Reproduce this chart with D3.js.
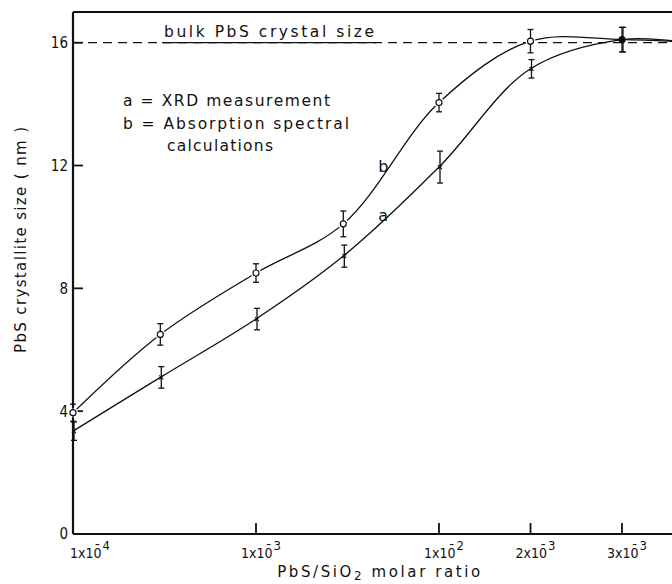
<!DOCTYPE html>
<html><head><meta charset="utf-8">
<script src="https://cdn.jsdelivr.net/npm/d3@7"></script>
<style>
body{margin:0;background:#fff;}
text{font-family:"DejaVu Sans Condensed","DejaVu Sans",sans-serif;fill:#111;}
.ann{font-family:"DejaVu Sans",sans-serif;}
</style></head>
<body><svg id="c" width="672" height="584"></svg>
<script>
// ---- data ----
const xVals   = [1e-4, 3e-4, 1e-3, 3e-3, 1e-2, 2e-2, 3e-2];
const seriesB = [3.95, 6.5, 8.5, 10.1, 14.05, 16.05, 16.1];   // absorption spectral calc (circles)
const errB    = [0.28, 0.35, 0.3, 0.42, 0.3, 0.38, 0.4];
const seriesA = [3.35, 5.1, 7.0, 9.05, 11.95, 15.15, 16.1];   // XRD (crosses)
const errA    = [0.3, 0.35, 0.35, 0.36, 0.52, 0.3, 0.4];
const curveEndX = 3.9e-2, curveEndB = 16.03, curveEndA = 16.03;
const bulkSize = 16;
const xTicks = [1e-4, 1e-3, 1e-2, 2e-2, 3e-2];
const xTickBase = ["1x1", "1x1", "1x1", "2x1", "3x1"];
const xTickExp  = ["4", "3", "2", "3", "3"];
const yTicks = [0, 4, 8, 12, 16];
const yTickMarks = [4, 8, 12, 16];

(function(){
// ---- layout ----
const svg = d3.select("#c");
const mLeft = 73, mTop = 12, mBottom = 534, dec = 183;
const x = d3.scaleLinear()
  .domain([-4, -2, Math.log10(2e-2), Math.log10(3e-2)])
  .range([mLeft, mLeft + 2*dec, mLeft + 2.5*dec, mLeft + 3*dec]);
const X = v => x(Math.log10(v));
const y = d3.scaleLinear().domain([0, 17]).range([mBottom, mTop]);
const mRight = 700;

const ink = "#111";
// frame
svg.append("line").attr("x1", mLeft).attr("x2", mRight).attr("y1", mTop).attr("y2", mTop).attr("stroke", ink).attr("stroke-width", 2);
svg.append("line").attr("x1", mLeft).attr("x2", mLeft).attr("y1", mTop).attr("y2", mBottom).attr("stroke", ink).attr("stroke-width", 2.2);
svg.append("line").attr("x1", mLeft).attr("x2", mRight).attr("y1", mBottom).attr("y2", mBottom).attr("stroke", ink).attr("stroke-width", 2);

// y ticks
svg.selectAll(".yt").data(yTickMarks).enter().append("line")
  .attr("x1", mLeft).attr("x2", mLeft + 10).attr("y1", d => y(d)).attr("y2", d => y(d))
  .attr("stroke", ink).attr("stroke-width", 1.8);
svg.selectAll(".yl").data(yTicks).enter().append("text")
  .attr("x", mLeft - 5).attr("y", d => y(d)).attr("dy", "0.36em")
  .attr("text-anchor", "end").attr("font-size", 15).text(d => d);

// x ticks
svg.selectAll(".xt").data(xTicks.slice(1)).enter().append("line")
  .attr("x1", d => X(d)).attr("x2", d => X(d)).attr("y1", mBottom).attr("y2", mBottom - 11)
  .attr("stroke", ink).attr("stroke-width", 1.8);
xTicks.forEach((t, i) => {
  const tx = svg.append("text").attr("y", mBottom + 24).attr("font-size", 14)
    .attr("x", i === 0 ? X(t) - 3 : X(t) + 5)
    .attr("text-anchor", i === 0 ? "start" : "middle");
  tx.append("tspan").text(xTickBase[i] + "0\u0304");
  tx.append("tspan").attr("dy", -8).attr("dx", 1).attr("font-size", 13).text(xTickExp[i]);
});

// axis titles
svg.append("text").attr("class", "ann").attr("x", 380).attr("y", 577).attr("text-anchor", "middle")
  .attr("font-size", 15).attr("letter-spacing", 2.6)
  .html('PbS/SiO<tspan dy="3" font-size="12">2</tspan><tspan dy="-3"> molar ratio</tspan>');
svg.append("text").attr("class", "ann").attr("transform", "translate(26,240) rotate(-90)").attr("text-anchor", "middle")
  .attr("font-size", 15).attr("textLength", 226).attr("lengthAdjust", "spacing").text("PbS crystallite size ( nm )");

// bulk line
svg.append("line").attr("x1", mLeft).attr("x2", mRight).attr("y1", y(bulkSize)).attr("y2", y(bulkSize))
  .attr("stroke", ink).attr("stroke-width", 1.3).attr("stroke-dasharray", "9,6");
const bulkT = svg.append("text").attr("class", "ann").attr("x", 164).attr("y", y(bulkSize) - 6).attr("font-size", 15.5)
  .attr("textLength", 210).attr("lengthAdjust", "spacing").text("bulk PbS crystal size");
const bb = bulkT.node().getBBox();
svg.append("line").attr("x1", bb.x - 2).attr("x2", bb.x + bb.width + 2).attr("y1", y(bulkSize)).attr("y2", y(bulkSize))
  .attr("stroke", ink).attr("stroke-width", 1.3);

// legend text
svg.append("text").attr("class", "ann").attr("x", 123).attr("y", 106).attr("font-size", 15.5)
  .attr("textLength", 207).attr("lengthAdjust", "spacing").text("a = XRD measurement");
svg.append("text").attr("class", "ann").attr("x", 123).attr("y", 129).attr("font-size", 15.5)
  .attr("textLength", 226).attr("lengthAdjust", "spacing").text("b = Absorption spectral");
svg.append("text").attr("class", "ann").attr("x", 167).attr("y", 151).attr("font-size", 15.5)
  .attr("textLength", 106).attr("lengthAdjust", "spacing").text("calculations");

// curves
const line = d3.line().x(d => X(d[0])).y(d => y(d[1])).curve(d3.curveCatmullRom.alpha(0.5));
const ptsB = xVals.map((v, i) => [v, seriesB[i]]).concat([[curveEndX, curveEndB]]);
const ptsA = xVals.map((v, i) => [v, seriesA[i]]).concat([[curveEndX, curveEndA]]);
svg.append("path").attr("d", line(ptsB)).attr("fill", "none").attr("stroke", ink).attr("stroke-width", 1.3);
svg.append("path").attr("d", line(ptsA)).attr("fill", "none").attr("stroke", ink).attr("stroke-width", 1.3);

// curve labels
svg.append("text").attr("class", "ann").attr("x", X(3e-3) + 35).attr("y", y(12) + 6).attr("font-size", 16).text("b");
svg.append("text").attr("class", "ann").attr("x", X(3e-3) + 35).attr("y", y(10.4) + 6).attr("font-size", 16).text("a");

// error bars
function errorBars(vals, errs, dx) {
  xVals.forEach((v, i) => {
    const cx = X(v) + dx, y1 = y(vals[i] - errs[i]), y2 = y(vals[i] + errs[i]);
    svg.append("line").attr("x1", cx).attr("x2", cx).attr("y1", y1).attr("y2", y2).attr("stroke", ink).attr("stroke-width", 1.3);
    [y1, y2].forEach(yy => svg.append("line").attr("x1", cx - 3).attr("x2", cx + 3).attr("y1", yy).attr("y2", yy).attr("stroke", ink).attr("stroke-width", 1.3));
  });
}
// halos to make gaps
svg.selectAll(".haloB").data(xVals.slice(0, 6)).enter().append("circle")
  .attr("cx", (d) => X(d)).attr("cy", (d, i) => y(seriesB[i])).attr("r", 5).attr("fill", "#fff");
errorBars(seriesB, errB, 0);
errorBars(seriesA, errA, 1);
svg.selectAll(".mB").data(xVals).enter().append("circle")
  .attr("cx", d => X(d)).attr("cy", (d, i) => y(seriesB[i])).attr("r", 3)
  .attr("fill", (d, i) => i === 6 ? ink : "#fff").attr("stroke", ink).attr("stroke-width", 1.2);
xVals.forEach((v, i) => {
  const cx = X(v) + 1, cy = y(seriesA[i]);
  svg.append("path").attr("d", `M${cx-2},${cy-2}L${cx+2},${cy+2}M${cx+2},${cy-2}L${cx-2},${cy+2}`)
    .attr("stroke", ink).attr("stroke-width", 1.1);
});
})();
</script></body></html>
